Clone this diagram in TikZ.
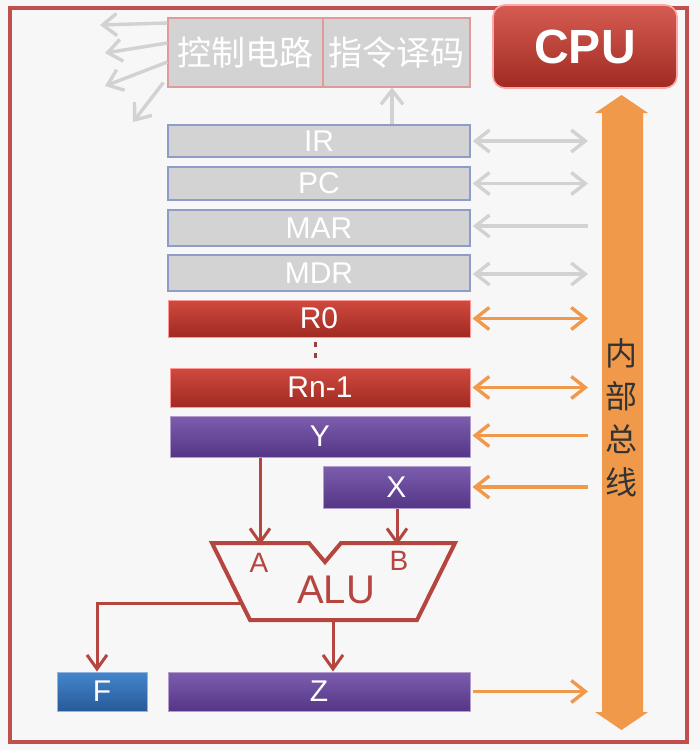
\documentclass[tikz,border=0pt]{standalone}
\usepackage{fontspec}
\setmainfont{Liberation Sans}
\newfontfamily\cjk{Noto Sans CJK SC}
\usetikzlibrary{arrows.meta}
\definecolor{bgc}{HTML}{F7F7F7}
\definecolor{framec}{HTML}{C0504D}
\definecolor{grayfill}{HTML}{D3D3D3}
\definecolor{grayarrow}{HTML}{D2D2D2}
\definecolor{ctlborder}{HTML}{E09A9A}
\definecolor{regborder}{HTML}{8E9DC8}
\definecolor{redtop}{HTML}{D04A3F}
\definecolor{redbot}{HTML}{A02A22}
\definecolor{purtop}{HTML}{7D5DAE}
\definecolor{purbot}{HTML}{553585}
\definecolor{bluetop}{HTML}{4486CC}
\definecolor{bluebot}{HTML}{285A98}
\definecolor{orangec}{HTML}{F0994A}
\definecolor{alured}{HTML}{B5453F}
\begin{document}
\begin{tikzpicture}[x=0.5pt,y=-0.5pt,
  ctlbox/.style={draw=ctlborder, line width=0.6pt, fill=grayfill, text=white, inner sep=0pt, font=\cjk\fontsize{17}{20}\selectfont},
  regbox/.style={draw=regborder, line width=0.8pt, fill=grayfill, text=white, inner sep=0pt, minimum width=151pt, font=\fontsize{15}{17}\selectfont},
  redbox/.style={draw=red!40!white, line width=0.5pt, top color=redtop, bottom color=redbot, text=white, inner sep=0pt, minimum width=151pt, font=\fontsize{15}{17}\selectfont},
  purbox/.style={draw=purtop!60!white, line width=0.5pt, top color=purtop, bottom color=purbot, text=white, inner sep=0pt, minimum width=151pt, font=\fontsize{15}{17}\selectfont},
  bluebox/.style={draw=bluetop!60!white, line width=0.5pt, top color=bluetop, bottom color=bluebot, text=white, inner sep=0pt, font=\fontsize{15}{17}\selectfont},
  gtip/.tip={Straight Barb[length=7pt,width=11pt]},
  garrow/.style={draw=grayarrow, line width=1.7pt, gtip-gtip},
  gleft/.style={draw=grayarrow, line width=1.7pt, gtip-},
  gright/.style={draw=grayarrow, line width=1.7pt, -gtip},
  oarrow/.style={draw=orangec, line width=1.7pt, gtip-gtip},
  oleft/.style={draw=orangec, line width=1.7pt, gtip-},
  oright/.style={draw=orangec, line width=1.7pt, -gtip},
  rarrow/.style={draw=alured, line width=1.5pt, -{Straight Barb[length=7pt,width=10pt]}},
]
\fill[bgc] (0,0) rectangle (700,750);
\useasboundingbox (0,0) rectangle (700,750);

% outer frame
\draw[framec, line width=2pt] (10,8) rectangle (687,742);

% CPU label
\node[draw=red!35!white, line width=0.8pt, top color=redtop!90!white, bottom color=redbot, rounded corners=6pt,
  minimum width=92pt, minimum height=41.5pt, text=white, font=\bfseries\fontsize{24}{28}\selectfont] (cpu) at (585,46.5) {CPU};

% control unit
\node[ctlbox, minimum width=77.5pt, minimum height=34.5pt] (ctl) at (245.5,52.5) {控制电路};
\node[ctlbox, minimum width=73.5pt, minimum height=34.5pt] (dec) at (396.5,52.5) {指令译码};

% control signal arrows
\coordinate (c1) at (100,25);
\coordinate (c2) at (105,53);
\coordinate (c3) at (105,86);
\coordinate (c4) at (133,122);
\draw[gright] ([yshift=14.75pt]ctl.west) -- (c1);
\draw[gright] ([yshift=4.75pt]ctl.west) -- (c2);
\draw[gright] ([yshift=-4.75pt]ctl.west) -- (c3);
\draw[gright] ([xshift=-2pt,yshift=-15pt]ctl.west) -- (c4);

% registers
\node[regbox, minimum height=16pt] (IR) at (319,141) {IR};
\node[regbox, minimum height=16.5pt] (PC) at (319,183.5) {PC};
\node[regbox, minimum height=18pt] (MAR) at (319,228) {MAR};
\node[regbox, minimum height=18pt] (MDR) at (319,273) {MDR};
\node[redbox, minimum height=18.5pt] (R0) at (319,318.5) {R0};
\node[redbox, minimum width=150pt, minimum height=19.5pt] (Rn) at (320,387.5) {Rn-1};
\node[purbox, minimum width=150pt, minimum height=20.5pt] (Y) at (320,436.5) {Y};
\node[purbox, minimum width=73.5pt, minimum height=21pt] (X) at (396.5,487) {X};
\node[purbox, minimum height=19.5pt] (Z) at (319,691.5) {Z};
\node[bluebox, minimum width=45pt, minimum height=19.5pt] (F) at (102,691.5) {F};

% dots between R0 and Rn-1
\draw[framec!80!black, line width=1.5pt, dash pattern=on 2.5pt off 3pt] (315,342) -- (315,362);

% IR -> decoder
\coordinate (irup) at (392,0);
\draw[gright] (IR.north -| irup) -- (dec.south -| irup);

% internal bus
\draw[fill=orangec, draw=none] (602,113) -- (595,113) -- (621.5,95) -- (648,113) -- (643,113)
  -- (643,712) -- (648,712) -- (621.5,730) -- (595,712) -- (602,712) -- cycle;
\node[text=black!80, align=center, font=\cjk\fontsize{16}{21.5}\selectfont] (bus) at (621.5,418) {内\\部\\总\\线};
\coordinate (busedge) at (588,0);

% bus connectors
\draw[garrow, shorten <=1pt] (IR.east) -- (IR.east -| busedge);
\draw[garrow, shorten <=1pt] (PC.east) -- (PC.east -| busedge);
\draw[gleft, shorten <=1pt] ([yshift=1pt]MAR.east) -- ([yshift=1pt]MAR.east -| busedge);
\draw[garrow, shorten <=1pt] ([yshift=-0.5pt]MDR.east) -- ([yshift=-0.5pt]MDR.east -| busedge);
\draw[oarrow, shorten <=1pt] (R0.east) -- (R0.east -| busedge);
\draw[oarrow, shorten <=1pt] (Rn.east) -- (Rn.east -| busedge);
\draw[oleft, shorten <=1pt] ([yshift=0.5pt]Y.east) -- ([yshift=0.5pt]Y.east -| busedge);
\draw[oleft, shorten <=1pt] (X.east) -- (X.east -| busedge);
\draw[oright, shorten <=1pt] (Z.east) -- (Z.east -| busedge);

% ALU
\draw[alured, line width=2pt, line join=miter] (212,543) -- (309,543) -- (325,562) -- (341,543) -- (455,543)
  -- (417,620) -- (250,620) -- cycle;
\node[text=alured, font=\fontsize{20}{24}\selectfont] (alu) at (336,590) {ALU};
\node[text=alured, font=\fontsize{14}{16}\selectfont] (lblA) at (259,563) {A};
\node[text=alured, font=\fontsize{14}{16}\selectfont] (lblB) at (399,561) {B};
\coordinate (ainp) at (260,545);
\coordinate (binp) at (397,545);
\coordinate (aluout) at (333,621);
\coordinate (aluleft) at (241,603);

\draw[rarrow] (Y.south -| ainp) -- (ainp);
\draw[rarrow] (X.south -| binp) -- (binp);
\draw[rarrow] (aluout) -- (aluout |- Z.north);
\draw[rarrow] (aluleft) -| ([xshift=-2.5pt]F.north);
\end{tikzpicture}
\end{document}
